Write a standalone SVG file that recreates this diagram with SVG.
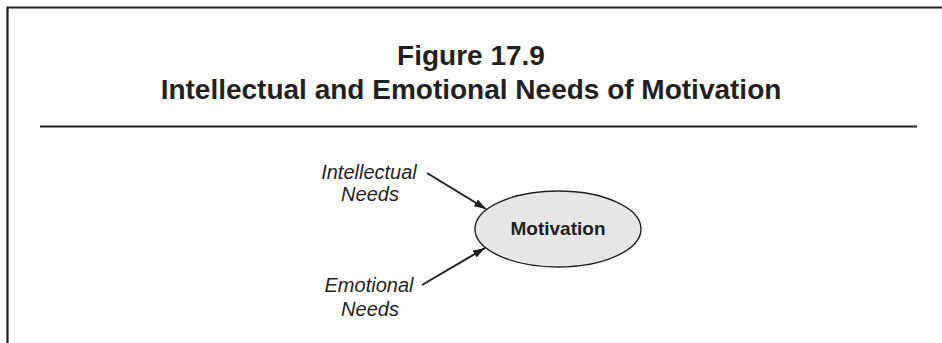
<svg xmlns="http://www.w3.org/2000/svg" width="942" height="343" viewBox="0 0 942 343">
<style>
.title{font-family:"Liberation Sans",Arial,sans-serif;font-weight:bold;font-size:28px;fill:#231f20;text-anchor:middle}
.lbl{font-family:"Liberation Sans",Arial,sans-serif;font-style:italic;font-size:20px;fill:#231f20;text-anchor:middle}
.node{font-family:"Liberation Sans",Arial,sans-serif;font-weight:bold;font-size:19px;fill:#231f20;text-anchor:middle}
.conn{stroke:#231f20;stroke-width:2;fill:none}
</style>
<defs>
<marker id="ah" viewBox="0 0 12 8" refX="12" refY="4" markerWidth="12" markerHeight="8" markerUnits="userSpaceOnUse" orient="auto">
<path d="M0,0 L12,4 L0,8 z" fill="#231f20"/>
</marker>
</defs>
<rect width="942" height="343" fill="#fff"/>
<path d="M7.5,343 V7.5 H942" stroke="#231f20" stroke-width="2.2" fill="none"/>
<line x1="40" y1="126.5" x2="917" y2="126.5" stroke="#231f20" stroke-width="2"/>
<g id="title">
<text class="title" x="471" y="65">Figure 17.9</text>
<text class="title" x="471" y="99">Intellectual and Emotional Needs of Motivation</text>
</g>
<g id="motivation">
<ellipse cx="558" cy="229" rx="83" ry="38" fill="#e6e6e7" stroke="#231f20" stroke-width="1.4"/>
<text class="node" x="558" y="235">Motivation</text>
</g>
<g id="intellectual">
<text class="lbl" x="369" y="179">Intellectual</text>
<text class="lbl" x="370" y="201">Needs</text>
</g>
<g id="emotional">
<text class="lbl" x="369" y="292">Emotional</text>
<text class="lbl" x="370" y="316">Needs</text>
</g>
<g id="connectors">
<line class="conn" x1="427" y1="173" x2="486" y2="209" marker-end="url(#ah)"/>
<line class="conn" x1="422" y1="285" x2="485" y2="248" marker-end="url(#ah)"/>
</g>
</svg>
